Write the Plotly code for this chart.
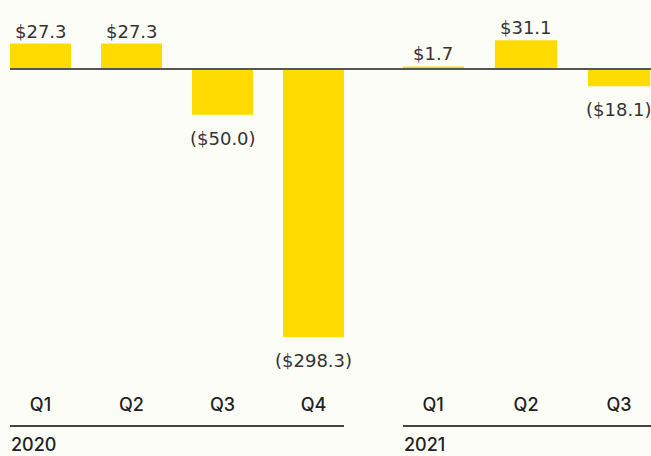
import plotly.graph_objects as go

# ---- data ----
quarters_2020 = ["Q1", "Q2", "Q3", "Q4"]
values_2020 = [27.3, 27.3, -50.0, -298.3]
quarters_2021 = ["Q1", "Q2", "Q3"]
values_2021 = [1.7, 31.1, -18.1]
years = ["2020", "2021"]

BAR = "#FFDB00"
TXT = "#333333"
W, H = 651, 456
PLOT_BOTTOM = 392  # px


def fmt(v):
    return f"${v:.1f}" if v >= 0 else f"(${-v:.1f})"


bar_style = dict(color=BAR, line=dict(color=BAR, width=2))
fig = go.Figure()
fig.add_trace(go.Bar(x=quarters_2020, y=values_2020, marker=bar_style,
                     xaxis="x", yaxis="y", hoverinfo="skip"))
fig.add_trace(go.Bar(x=quarters_2021, y=values_2021, marker=bar_style,
                     xaxis="x2", yaxis="y", hoverinfo="skip"))

annotations = []
for xs, vs, xr in [(quarters_2020, values_2020, "x"), (quarters_2021, values_2021, "x2")]:
    for q, v in zip(xs, vs):
        annotations.append(dict(
            x=q, y=v, xref=xr, yref="y", text=fmt(v), showarrow=False,
            yanchor="bottom" if v >= 0 else "top",
            yshift=1 if v >= 0 else -12,
            font=dict(family="DejaVu Sans", size=18, color=TXT),
        ))

# year labels
year_x = [10 / W, 403 / W]
for yr, xx in zip(years, year_x):
    annotations.append(dict(
        x=xx, y=-(445 - PLOT_BOTTOM) / PLOT_BOTTOM, xref="paper", yref="paper",
        text=yr, showarrow=False, xanchor="left", yanchor="middle", borderpad=0,
        font=dict(family="Inter", size=18, color="#222222", weight=500),
    ))

ul_y = -(426 - PLOT_BOTTOM) / PLOT_BOTTOM
shapes = [
    dict(type="line", xref="paper", yref="y", x0=10 / W, x1=1, y0=0, y1=0,
         line=dict(color="#555555", width=2)),
    dict(type="line", xref="paper", yref="paper", x0=10 / W, x1=344 / W,
         y0=ul_y, y1=ul_y, line=dict(color="#444444", width=2)),
    dict(type="line", xref="paper", yref="paper", x0=403 / W, x1=1,
         y0=ul_y, y1=ul_y, line=dict(color="#444444", width=2)),
]

tickfont = dict(family="Inter", size=18, color="#222222", weight=500)
fig.update_layout(
    width=W, height=H,
    margin=dict(l=0, r=0, t=0, b=H - PLOT_BOTTOM),
    paper_bgcolor="#FDFDF8", plot_bgcolor="#FDFDF8",
    showlegend=False, bargap=0.352,
    xaxis=dict(domain=[0, 344 / W], range=[-0.445, 3.335], showgrid=False,
               zeroline=False, showline=False, ticks="", tickfont=tickfont,
               fixedrange=True),
    xaxis2=dict(domain=[403 / W, 1], range=[-0.323, 2.344], showgrid=False,
                zeroline=False, showline=False, ticks="", tickfont=tickfont,
                anchor="y", fixedrange=True),
    yaxis=dict(range=[-360.9, 77.1], visible=False, fixedrange=True),
    annotations=annotations, shapes=shapes,
)

fig.write_html("out.html", config={"displayModeBar": False},
               post_script="document.body.style.margin='0';document.body.style.background='#FDFDF8';")
